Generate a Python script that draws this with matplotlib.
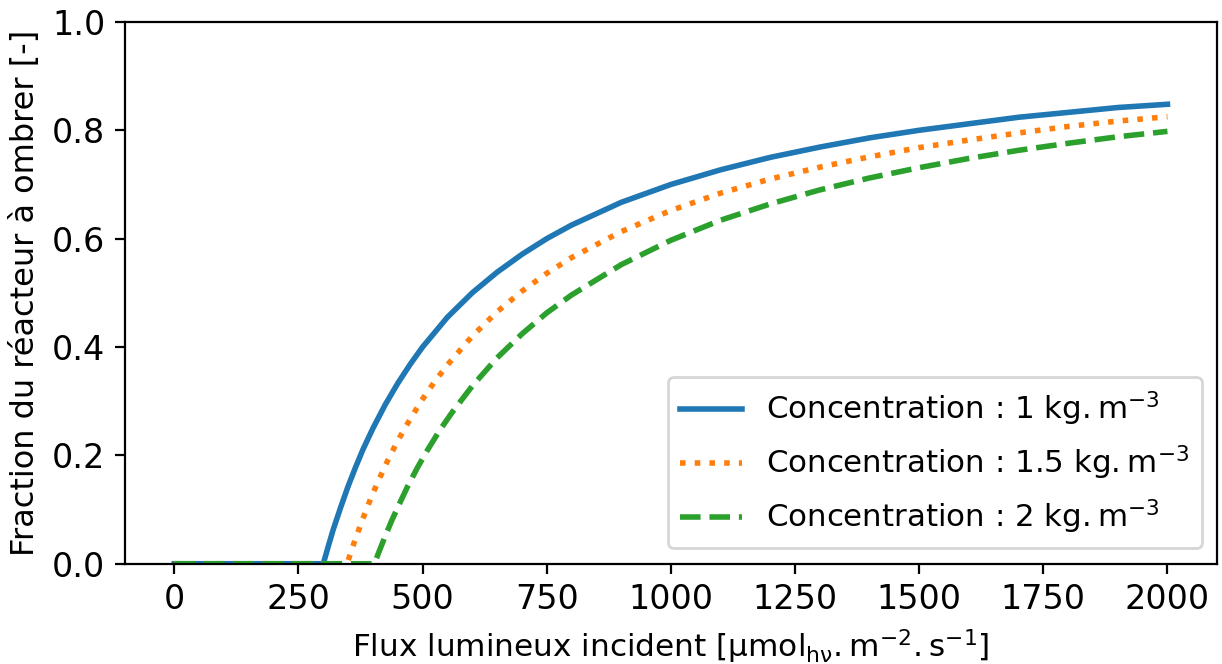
import numpy as np
import matplotlib
matplotlib.use('Agg')
import matplotlib.pyplot as plt

# values
x_c1 = [0, 300, 310, 320, 335, 350, 365, 380, 400, 425, 450, 475, 500, 550,
        600, 650, 700, 750, 800, 900, 1000, 1100, 1200, 1300, 1400, 1500,
        1600, 1700, 1800, 1900, 2000]
y_c1 = [0, 0, 0.032, 0.063, 0.104, 0.143, 0.178, 0.211, 0.250, 0.294, 0.333,
        0.368, 0.400, 0.455, 0.500, 0.538, 0.571, 0.600, 0.625, 0.667, 0.700,
        0.727, 0.750, 0.769, 0.786, 0.800, 0.812, 0.824, 0.833, 0.842, 0.848]

x_c15 = [0, 348, 358, 368, 383, 398, 413, 430, 450, 475, 500, 525, 550, 600,
         650, 700, 750, 800, 900, 1000, 1100, 1200, 1300, 1400, 1500, 1600,
         1700, 1800, 1900, 2000]
y_c15 = [0, 0, 0.028, 0.054, 0.091, 0.126, 0.157, 0.191, 0.227, 0.267, 0.304,
         0.337, 0.367, 0.420, 0.465, 0.503, 0.536, 0.565, 0.613, 0.652, 0.684,
         0.710, 0.732, 0.751, 0.768, 0.782, 0.795, 0.807, 0.817, 0.825]

x_c2 = [0, 403, 413, 423, 438, 453, 470, 490, 510, 535, 560, 600, 650, 700,
        750, 800, 900, 1000, 1100, 1200, 1300, 1400, 1500, 1600, 1700, 1800,
        1900, 2000]
y_c2 = [0, 0, 0.024, 0.047, 0.080, 0.110, 0.143, 0.178, 0.210, 0.247, 0.280,
        0.328, 0.380, 0.424, 0.463, 0.496, 0.552, 0.597, 0.634, 0.664, 0.690,
        0.712, 0.731, 0.748, 0.763, 0.776, 0.788, 0.798]

labels = [r'Concentration : 1 $\mathrm{kg.m^{-3}}$',
          r'Concentration : 1.5 $\mathrm{kg.m^{-3}}$',
          r'Concentration : 2 $\mathrm{kg.m^{-3}}$']

fig, ax = plt.subplots(figsize=(6.11, 3.32), dpi=200)
ax.plot(x_c1, y_c1, '-', lw=2, label=labels[0])
ax.plot(x_c15, y_c15, ':', lw=2, label=labels[1])
ax.plot(x_c2, y_c2, '--', lw=2, label=labels[2])

ax.set_ylim(0, 1)
ax.set_xticks(np.arange(0, 2001, 250))
ax.tick_params(labelsize=12)
ax.set_xlabel(r'Flux lumineux incident [μ$\mathrm{mol_{h\nu}.m^{-2}.s^{-1}}$]', fontsize=11.2)
ax.set_ylabel('Fraction du réacteur à ombrer [-]', fontsize=11.5)
ax.legend(loc='lower right', fontsize=11.1)

fig.subplots_adjust(left=0.102, right=0.996, bottom=0.151, top=0.967)
plt.savefig('out.png', dpi=200)
